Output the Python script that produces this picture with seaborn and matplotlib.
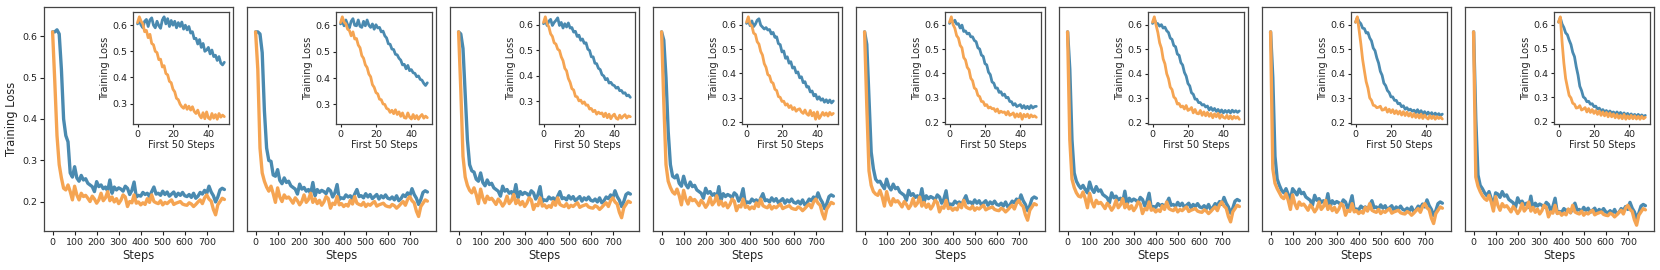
import matplotlib
matplotlib.use("Agg")
import matplotlib.pyplot as plt
import seaborn as sns

# ---------------- data ----------------
steps = list(range(0, 790, 10))
inset_steps = list(range(50))
inset_xticks = [0, 20, 40]
main_xticks = [0, 100, 200, 300, 400, 500, 600, 700]
main_yticks = [0.2, 0.3, 0.4, 0.5, 0.6]
inset_yticks_high = [0.3, 0.4, 0.5, 0.6]
inset_yticks_low = [0.2, 0.3, 0.4, 0.5, 0.6]

orange_main_1 = [0.610, 0.490, 0.360, 0.290, 0.258,
    0.233, 0.229, 0.241, 0.225, 0.205, 0.238, 0.217, 0.205, 0.221, 0.213,
    0.216, 0.209, 0.201, 0.214, 0.207, 0.197, 0.205, 0.221, 0.203, 0.210,
    0.225, 0.203, 0.212, 0.200, 0.208, 0.196, 0.204, 0.217, 0.212, 0.189,
    0.201, 0.198, 0.217, 0.197, 0.200, 0.193, 0.198, 0.194, 0.208, 0.199,
    0.217, 0.201, 0.198, 0.196, 0.203, 0.193, 0.199, 0.196, 0.201, 0.205,
    0.194, 0.197, 0.199, 0.201, 0.195, 0.193, 0.192, 0.198, 0.195, 0.189,
    0.194, 0.200, 0.205, 0.196, 0.210, 0.217, 0.207, 0.202, 0.182, 0.169,
    0.193, 0.201, 0.209, 0.206]
orange_main_2 = [0.610, 0.520, 0.330, 0.270, 0.250,
    0.236, 0.226, 0.238, 0.220, 0.199, 0.234, 0.212, 0.201, 0.217, 0.209,
    0.212, 0.205, 0.197, 0.210, 0.203, 0.193, 0.201, 0.217, 0.199, 0.206,
    0.221, 0.199, 0.208, 0.196, 0.204, 0.192, 0.200, 0.213, 0.208, 0.185,
    0.197, 0.194, 0.213, 0.193, 0.196, 0.189, 0.194, 0.190, 0.204, 0.195,
    0.213, 0.197, 0.194, 0.192, 0.199, 0.189, 0.195, 0.192, 0.197, 0.201,
    0.190, 0.193, 0.195, 0.197, 0.191, 0.189, 0.188, 0.194, 0.191, 0.185,
    0.190, 0.196, 0.201, 0.192, 0.206, 0.213, 0.203, 0.198, 0.178, 0.165,
    0.189, 0.197, 0.205, 0.202]
orange_main_3 = [0.610, 0.470, 0.310, 0.260, 0.240,
    0.228, 0.222, 0.234, 0.218, 0.196, 0.231, 0.210, 0.198, 0.214, 0.206,
    0.209, 0.202, 0.194, 0.207, 0.200, 0.190, 0.198, 0.214, 0.196, 0.203,
    0.218, 0.196, 0.205, 0.193, 0.201, 0.189, 0.197, 0.210, 0.205, 0.182,
    0.194, 0.191, 0.210, 0.190, 0.193, 0.186, 0.191, 0.187, 0.201, 0.192,
    0.210, 0.194, 0.191, 0.189, 0.196, 0.186, 0.192, 0.189, 0.194, 0.198,
    0.187, 0.190, 0.192, 0.194, 0.188, 0.186, 0.185, 0.191, 0.188, 0.182,
    0.187, 0.193, 0.198, 0.189, 0.203, 0.210, 0.200, 0.195, 0.175, 0.162,
    0.186, 0.194, 0.202, 0.199]
orange_main_4 = [0.610, 0.440, 0.290, 0.250, 0.235,
    0.224, 0.219, 0.231, 0.215, 0.193, 0.228, 0.207, 0.195, 0.211, 0.203,
    0.206, 0.199, 0.191, 0.204, 0.197, 0.187, 0.195, 0.211, 0.193, 0.200,
    0.215, 0.193, 0.202, 0.190, 0.198, 0.186, 0.194, 0.207, 0.202, 0.179,
    0.191, 0.188, 0.207, 0.187, 0.190, 0.183, 0.188, 0.184, 0.198, 0.189,
    0.207, 0.191, 0.188, 0.186, 0.193, 0.183, 0.189, 0.186, 0.191, 0.195,
    0.184, 0.187, 0.189, 0.191, 0.185, 0.183, 0.182, 0.188, 0.185, 0.179,
    0.184, 0.190, 0.195, 0.186, 0.200, 0.207, 0.197, 0.192, 0.172, 0.159,
    0.183, 0.191, 0.199, 0.196]
orange_main_5 = [0.610, 0.430, 0.275, 0.240, 0.225,
    0.219, 0.216, 0.228, 0.212, 0.190, 0.225, 0.204, 0.192, 0.208, 0.200,
    0.203, 0.196, 0.188, 0.201, 0.194, 0.184, 0.192, 0.208, 0.190, 0.197,
    0.212, 0.190, 0.199, 0.187, 0.195, 0.183, 0.191, 0.204, 0.199, 0.176,
    0.188, 0.185, 0.204, 0.184, 0.187, 0.180, 0.185, 0.181, 0.195, 0.186,
    0.204, 0.188, 0.185, 0.183, 0.190, 0.180, 0.186, 0.183, 0.188, 0.192,
    0.181, 0.184, 0.186, 0.188, 0.182, 0.180, 0.179, 0.185, 0.182, 0.176,
    0.181, 0.187, 0.192, 0.183, 0.197, 0.204, 0.194, 0.189, 0.169, 0.156,
    0.180, 0.188, 0.196, 0.193]
orange_main_6 = [0.610, 0.350, 0.255, 0.235, 0.222,
    0.214, 0.212, 0.224, 0.208, 0.186, 0.221, 0.200, 0.188, 0.204, 0.196,
    0.199, 0.192, 0.184, 0.197, 0.190, 0.180, 0.188, 0.204, 0.186, 0.193,
    0.208, 0.186, 0.195, 0.183, 0.191, 0.179, 0.187, 0.200, 0.195, 0.172,
    0.184, 0.181, 0.200, 0.180, 0.183, 0.176, 0.181, 0.177, 0.191, 0.182,
    0.200, 0.184, 0.181, 0.179, 0.186, 0.176, 0.182, 0.179, 0.184, 0.188,
    0.177, 0.180, 0.182, 0.184, 0.178, 0.176, 0.175, 0.181, 0.178, 0.172,
    0.177, 0.183, 0.188, 0.179, 0.193, 0.200, 0.190, 0.185, 0.165, 0.152,
    0.176, 0.184, 0.192, 0.189]
orange_main_7 = [0.610, 0.280, 0.245, 0.232, 0.222,
    0.212, 0.208, 0.220, 0.204, 0.182, 0.217, 0.196, 0.184, 0.200, 0.192,
    0.195, 0.188, 0.180, 0.193, 0.186, 0.176, 0.184, 0.200, 0.182, 0.189,
    0.204, 0.182, 0.191, 0.179, 0.187, 0.175, 0.183, 0.196, 0.191, 0.168,
    0.180, 0.177, 0.196, 0.176, 0.179, 0.172, 0.177, 0.173, 0.187, 0.178,
    0.196, 0.180, 0.177, 0.175, 0.182, 0.172, 0.178, 0.175, 0.180, 0.184,
    0.173, 0.176, 0.178, 0.180, 0.174, 0.172, 0.171, 0.177, 0.174, 0.168,
    0.173, 0.179, 0.184, 0.175, 0.189, 0.196, 0.186, 0.181, 0.161, 0.148,
    0.172, 0.180, 0.188, 0.185]
orange_main_8 = [0.610, 0.260, 0.238, 0.225, 0.215,
    0.208, 0.204, 0.216, 0.200, 0.178, 0.213, 0.192, 0.180, 0.196, 0.188,
    0.191, 0.184, 0.176, 0.189, 0.182, 0.172, 0.180, 0.196, 0.178, 0.185,
    0.200, 0.178, 0.187, 0.175, 0.183, 0.171, 0.179, 0.192, 0.187, 0.164,
    0.176, 0.173, 0.192, 0.172, 0.175, 0.168, 0.173, 0.169, 0.183, 0.174,
    0.192, 0.176, 0.173, 0.171, 0.178, 0.168, 0.174, 0.171, 0.176, 0.180,
    0.169, 0.172, 0.174, 0.176, 0.170, 0.168, 0.167, 0.173, 0.170, 0.164,
    0.169, 0.175, 0.180, 0.171, 0.185, 0.192, 0.182, 0.177, 0.157, 0.144,
    0.168, 0.176, 0.184, 0.181]

blue_main_1 = [0.610, 0.610, 0.615, 0.605, 0.520,
    0.400, 0.360, 0.345, 0.270, 0.260, 0.285, 0.258, 0.250, 0.264, 0.253,
    0.256, 0.245, 0.241, 0.237, 0.225, 0.249, 0.237, 0.241, 0.232, 0.236,
    0.226, 0.253, 0.221, 0.236, 0.229, 0.234, 0.231, 0.226, 0.238, 0.233,
    0.218, 0.228, 0.248, 0.212, 0.216, 0.214, 0.223, 0.218, 0.221, 0.213,
    0.225, 0.236, 0.219, 0.221, 0.216, 0.226, 0.218, 0.224, 0.214, 0.219,
    0.224, 0.213, 0.221, 0.216, 0.223, 0.215, 0.213, 0.218, 0.211, 0.221,
    0.209, 0.214, 0.223, 0.219, 0.228, 0.221, 0.238, 0.224, 0.215, 0.200,
    0.212, 0.229, 0.233, 0.230]
blue_main_2 = [0.610, 0.610, 0.605, 0.560, 0.420,
    0.330, 0.300, 0.298, 0.265, 0.262, 0.278, 0.252, 0.244, 0.258, 0.247,
    0.250, 0.239, 0.235, 0.231, 0.219, 0.243, 0.231, 0.235, 0.226, 0.230,
    0.220, 0.247, 0.215, 0.230, 0.223, 0.228, 0.225, 0.220, 0.232, 0.227,
    0.212, 0.222, 0.242, 0.206, 0.210, 0.208, 0.217, 0.212, 0.215, 0.207,
    0.219, 0.230, 0.213, 0.215, 0.210, 0.220, 0.212, 0.218, 0.208, 0.213,
    0.218, 0.207, 0.215, 0.210, 0.217, 0.209, 0.207, 0.212, 0.205, 0.215,
    0.203, 0.208, 0.217, 0.213, 0.222, 0.215, 0.232, 0.218, 0.209, 0.194,
    0.206, 0.223, 0.227, 0.224]
blue_main_3 = [0.610, 0.605, 0.570, 0.460, 0.350,
    0.290, 0.275, 0.272, 0.255, 0.250, 0.270, 0.247, 0.239, 0.253, 0.242,
    0.245, 0.234, 0.230, 0.226, 0.214, 0.238, 0.226, 0.230, 0.221, 0.225,
    0.215, 0.242, 0.210, 0.225, 0.218, 0.223, 0.220, 0.215, 0.227, 0.222,
    0.207, 0.217, 0.237, 0.201, 0.205, 0.203, 0.212, 0.207, 0.210, 0.202,
    0.214, 0.225, 0.208, 0.210, 0.205, 0.215, 0.207, 0.213, 0.203, 0.208,
    0.213, 0.202, 0.210, 0.205, 0.212, 0.204, 0.202, 0.207, 0.200, 0.210,
    0.198, 0.203, 0.212, 0.208, 0.217, 0.210, 0.227, 0.213, 0.204, 0.189,
    0.201, 0.218, 0.222, 0.219]
blue_main_4 = [0.610, 0.590, 0.500, 0.370, 0.290,
    0.262, 0.258, 0.265, 0.245, 0.238, 0.262, 0.242, 0.234, 0.248, 0.237,
    0.240, 0.229, 0.225, 0.221, 0.209, 0.233, 0.221, 0.225, 0.216, 0.220,
    0.210, 0.237, 0.205, 0.220, 0.213, 0.218, 0.215, 0.210, 0.222, 0.217,
    0.202, 0.212, 0.232, 0.196, 0.200, 0.198, 0.207, 0.202, 0.205, 0.197,
    0.209, 0.220, 0.203, 0.205, 0.200, 0.210, 0.202, 0.208, 0.198, 0.203,
    0.208, 0.197, 0.205, 0.200, 0.207, 0.199, 0.197, 0.202, 0.195, 0.205,
    0.193, 0.198, 0.207, 0.203, 0.212, 0.205, 0.222, 0.208, 0.199, 0.184,
    0.196, 0.213, 0.217, 0.214]
blue_main_5 = [0.610, 0.580, 0.450, 0.320, 0.280,
    0.255, 0.248, 0.250, 0.240, 0.232, 0.255, 0.237, 0.229, 0.243, 0.232,
    0.235, 0.224, 0.220, 0.216, 0.204, 0.228, 0.216, 0.220, 0.211, 0.215,
    0.205, 0.232, 0.200, 0.215, 0.208, 0.213, 0.210, 0.205, 0.217, 0.212,
    0.197, 0.207, 0.227, 0.191, 0.195, 0.193, 0.202, 0.197, 0.200, 0.192,
    0.204, 0.215, 0.198, 0.200, 0.195, 0.205, 0.197, 0.203, 0.193, 0.198,
    0.203, 0.192, 0.200, 0.195, 0.202, 0.194, 0.192, 0.197, 0.190, 0.200,
    0.188, 0.193, 0.202, 0.198, 0.207, 0.200, 0.217, 0.203, 0.194, 0.179,
    0.191, 0.208, 0.212, 0.209]
blue_main_6 = [0.610, 0.520, 0.350, 0.270, 0.250,
    0.240, 0.233, 0.240, 0.230, 0.222, 0.248, 0.231, 0.223, 0.237, 0.226,
    0.229, 0.218, 0.214, 0.210, 0.198, 0.222, 0.210, 0.214, 0.205, 0.209,
    0.199, 0.226, 0.194, 0.209, 0.202, 0.207, 0.204, 0.199, 0.211, 0.206,
    0.191, 0.201, 0.221, 0.185, 0.189, 0.187, 0.196, 0.191, 0.194, 0.186,
    0.198, 0.209, 0.192, 0.194, 0.189, 0.199, 0.191, 0.197, 0.187, 0.192,
    0.197, 0.186, 0.194, 0.189, 0.196, 0.188, 0.186, 0.191, 0.184, 0.194,
    0.182, 0.187, 0.196, 0.192, 0.201, 0.194, 0.211, 0.197, 0.188, 0.173,
    0.185, 0.202, 0.206, 0.203]
blue_main_7 = [0.610, 0.500, 0.310, 0.255, 0.240,
    0.228, 0.222, 0.232, 0.218, 0.205, 0.232, 0.225, 0.217, 0.231, 0.220,
    0.223, 0.212, 0.208, 0.204, 0.192, 0.216, 0.204, 0.208, 0.199, 0.203,
    0.193, 0.220, 0.188, 0.203, 0.196, 0.201, 0.198, 0.193, 0.205, 0.200,
    0.185, 0.195, 0.215, 0.179, 0.183, 0.181, 0.190, 0.185, 0.188, 0.180,
    0.192, 0.203, 0.186, 0.188, 0.183, 0.193, 0.185, 0.191, 0.181, 0.186,
    0.191, 0.180, 0.188, 0.183, 0.190, 0.182, 0.180, 0.185, 0.178, 0.188,
    0.176, 0.181, 0.190, 0.186, 0.195, 0.188, 0.205, 0.191, 0.182, 0.167,
    0.179, 0.196, 0.200, 0.197]
blue_main_8 = [0.610, 0.400, 0.265, 0.240, 0.232,
    0.222, 0.215, 0.225, 0.208, 0.190, 0.222, 0.219, 0.211, 0.225, 0.214,
    0.217, 0.206, 0.202, 0.198, 0.186, 0.210, 0.198, 0.202, 0.193, 0.197,
    0.187, 0.214, 0.182, 0.197, 0.190, 0.195, 0.192, 0.187, 0.199, 0.194,
    0.179, 0.189, 0.209, 0.173, 0.177, 0.175, 0.184, 0.179, 0.182, 0.174,
    0.186, 0.197, 0.180, 0.182, 0.177, 0.187, 0.179, 0.185, 0.175, 0.180,
    0.185, 0.174, 0.182, 0.177, 0.184, 0.176, 0.174, 0.179, 0.172, 0.182,
    0.170, 0.175, 0.184, 0.180, 0.189, 0.182, 0.199, 0.185, 0.176, 0.161,
    0.173, 0.190, 0.194, 0.191]

orange_inset_1 = [0.610, 0.632, 0.615, 0.605, 0.575, 0.580, 0.552, 0.565, 0.530, 0.525,
    0.500, 0.495, 0.468, 0.470, 0.440, 0.445, 0.415, 0.410, 0.385, 0.380,
    0.355, 0.345, 0.320, 0.315, 0.298, 0.288, 0.282, 0.295, 0.278, 0.290,
    0.275, 0.288, 0.270, 0.262, 0.275, 0.255, 0.245, 0.265, 0.242, 0.268,
    0.245, 0.240, 0.262, 0.244, 0.258, 0.240, 0.262, 0.248, 0.256, 0.250]
blue_inset_1 = [0.605, 0.618, 0.600, 0.590, 0.615, 0.622, 0.595, 0.620, 0.628, 0.600,
    0.590, 0.615, 0.598, 0.588, 0.620, 0.632, 0.605, 0.625, 0.595, 0.618,
    0.600, 0.615, 0.590, 0.610, 0.595, 0.612, 0.585, 0.600, 0.582, 0.595,
    0.570, 0.575, 0.548, 0.550, 0.528, 0.545, 0.515, 0.530, 0.500, 0.505,
    0.515, 0.490, 0.505, 0.480, 0.485, 0.465, 0.480, 0.455, 0.448, 0.458]
orange_inset_2 = [0.610, 0.632, 0.612, 0.605, 0.585, 0.580, 0.560, 0.575, 0.548, 0.550,
    0.525, 0.515, 0.485, 0.475, 0.450, 0.440, 0.415, 0.405, 0.375, 0.365,
    0.345, 0.340, 0.320, 0.318, 0.302, 0.300, 0.285, 0.282, 0.270, 0.278,
    0.265, 0.280, 0.262, 0.272, 0.255, 0.268, 0.250, 0.248, 0.268, 0.252,
    0.245, 0.262, 0.246, 0.258, 0.244, 0.255, 0.262, 0.248, 0.256, 0.250]
blue_inset_2 = [0.605, 0.615, 0.598, 0.620, 0.602, 0.590, 0.615, 0.625, 0.600, 0.598,
    0.620, 0.596, 0.592, 0.615, 0.598, 0.620, 0.600, 0.592, 0.605, 0.585,
    0.602, 0.590, 0.592, 0.575, 0.578, 0.560, 0.552, 0.530, 0.528, 0.510,
    0.508, 0.490, 0.488, 0.475, 0.468, 0.450, 0.452, 0.435, 0.448, 0.428,
    0.432, 0.420, 0.418, 0.405, 0.408, 0.395, 0.392, 0.380, 0.372, 0.382]
orange_inset_3 = [0.610, 0.632, 0.605, 0.592, 0.565, 0.555, 0.530, 0.525, 0.505, 0.500,
    0.475, 0.460, 0.430, 0.420, 0.390, 0.375, 0.350, 0.345, 0.320, 0.318,
    0.302, 0.305, 0.292, 0.298, 0.285, 0.286, 0.270, 0.272, 0.260, 0.265,
    0.250, 0.258, 0.252, 0.255, 0.240, 0.254, 0.236, 0.250, 0.232, 0.244,
    0.250, 0.234, 0.230, 0.246, 0.234, 0.242, 0.248, 0.235, 0.243, 0.240]
blue_inset_3 = [0.605, 0.618, 0.598, 0.615, 0.622, 0.598, 0.610, 0.618, 0.628, 0.598,
    0.610, 0.588, 0.605, 0.592, 0.608, 0.588, 0.590, 0.572, 0.575, 0.555,
    0.560, 0.540, 0.545, 0.528, 0.530, 0.505, 0.500, 0.475, 0.475, 0.450,
    0.448, 0.430, 0.425, 0.405, 0.400, 0.385, 0.390, 0.372, 0.375, 0.365,
    0.362, 0.352, 0.356, 0.342, 0.343, 0.332, 0.334, 0.322, 0.325, 0.316]
orange_inset_4 = [0.610, 0.632, 0.602, 0.595, 0.565, 0.560, 0.530, 0.520, 0.490, 0.475,
    0.440, 0.425, 0.395, 0.390, 0.365, 0.360, 0.335, 0.330, 0.305, 0.302,
    0.285, 0.286, 0.270, 0.275, 0.260, 0.268, 0.252, 0.260, 0.245, 0.252,
    0.255, 0.242, 0.236, 0.250, 0.234, 0.228, 0.248, 0.226, 0.240, 0.212,
    0.242, 0.215, 0.226, 0.240, 0.228, 0.238, 0.225, 0.240, 0.230, 0.236]
blue_inset_4 = [0.605, 0.618, 0.596, 0.615, 0.592, 0.602, 0.618, 0.624, 0.598, 0.590,
    0.582, 0.588, 0.578, 0.580, 0.562, 0.568, 0.548, 0.550, 0.522, 0.518,
    0.488, 0.492, 0.462, 0.468, 0.442, 0.448, 0.422, 0.426, 0.402, 0.406,
    0.382, 0.386, 0.362, 0.366, 0.344, 0.346, 0.324, 0.328, 0.308, 0.314,
    0.294, 0.304, 0.290, 0.296, 0.282, 0.292, 0.280, 0.291, 0.279, 0.287]
orange_inset_5 = [0.610, 0.632, 0.600, 0.585, 0.555, 0.545, 0.515, 0.505, 0.465, 0.455,
    0.425, 0.415, 0.380, 0.370, 0.340, 0.335, 0.310, 0.305, 0.285, 0.284,
    0.268, 0.272, 0.258, 0.262, 0.255, 0.256, 0.244, 0.254, 0.238, 0.245,
    0.240, 0.242, 0.230, 0.244, 0.228, 0.232, 0.238, 0.220, 0.234, 0.222,
    0.236, 0.212, 0.232, 0.222, 0.233, 0.218, 0.230, 0.222, 0.226, 0.220]
blue_inset_5 = [0.605, 0.622, 0.608, 0.618, 0.602, 0.604, 0.586, 0.598, 0.572, 0.574,
    0.562, 0.565, 0.550, 0.550, 0.535, 0.530, 0.505, 0.500, 0.475, 0.470,
    0.440, 0.435, 0.405, 0.395, 0.365, 0.360, 0.340, 0.340, 0.322, 0.325,
    0.310, 0.315, 0.300, 0.302, 0.285, 0.284, 0.270, 0.276, 0.264, 0.268,
    0.272, 0.258, 0.268, 0.256, 0.265, 0.255, 0.268, 0.258, 0.264, 0.265]
orange_inset_6 = [0.610, 0.632, 0.598, 0.568, 0.526, 0.504, 0.460, 0.440, 0.400, 0.380,
    0.345, 0.335, 0.305, 0.298, 0.276, 0.278, 0.264, 0.268, 0.256, 0.270,
    0.250, 0.254, 0.262, 0.240, 0.254, 0.238, 0.236, 0.250, 0.230, 0.244,
    0.228, 0.242, 0.226, 0.238, 0.220, 0.236, 0.224, 0.238, 0.218, 0.232,
    0.222, 0.218, 0.230, 0.216, 0.228, 0.215, 0.226, 0.218, 0.224, 0.214]
blue_inset_6 = [0.605, 0.622, 0.606, 0.604, 0.594, 0.600, 0.586, 0.590, 0.575, 0.568,
    0.545, 0.540, 0.515, 0.510, 0.480, 0.475, 0.445, 0.435, 0.405, 0.390,
    0.360, 0.350, 0.322, 0.316, 0.296, 0.296, 0.282, 0.282, 0.272, 0.274,
    0.264, 0.268, 0.252, 0.262, 0.250, 0.258, 0.246, 0.254, 0.242, 0.252,
    0.240, 0.250, 0.242, 0.250, 0.240, 0.251, 0.243, 0.249, 0.242, 0.248]
orange_inset_7 = [0.610, 0.632, 0.578, 0.522, 0.458, 0.412, 0.368, 0.342, 0.302, 0.292,
    0.272, 0.270, 0.262, 0.264, 0.268, 0.252, 0.254, 0.262, 0.244, 0.256,
    0.242, 0.254, 0.238, 0.250, 0.236, 0.248, 0.232, 0.246, 0.230, 0.244,
    0.228, 0.240, 0.224, 0.238, 0.222, 0.234, 0.220, 0.236, 0.218, 0.232,
    0.222, 0.216, 0.230, 0.218, 0.228, 0.215, 0.226, 0.218, 0.224, 0.216]
blue_inset_7 = [0.610, 0.628, 0.612, 0.604, 0.586, 0.584, 0.566, 0.568, 0.546, 0.534,
    0.505, 0.494, 0.465, 0.444, 0.410, 0.394, 0.362, 0.352, 0.332, 0.324,
    0.306, 0.306, 0.292, 0.292, 0.278, 0.280, 0.266, 0.270, 0.256, 0.262,
    0.252, 0.256, 0.248, 0.252, 0.242, 0.254, 0.240, 0.250, 0.236, 0.246,
    0.234, 0.244, 0.232, 0.242, 0.230, 0.240, 0.231, 0.238, 0.230, 0.236]
orange_inset_8 = [0.610, 0.632, 0.528, 0.442, 0.378, 0.342, 0.308, 0.298, 0.276, 0.272,
    0.256, 0.258, 0.266, 0.248, 0.252, 0.258, 0.240, 0.254, 0.238, 0.250,
    0.234, 0.246, 0.230, 0.244, 0.226, 0.240, 0.224, 0.238, 0.220, 0.236,
    0.220, 0.232, 0.216, 0.230, 0.214, 0.226, 0.212, 0.230, 0.210, 0.224,
    0.212, 0.226, 0.212, 0.224, 0.211, 0.222, 0.210, 0.222, 0.212, 0.218]
blue_inset_8 = [0.610, 0.628, 0.602, 0.588, 0.566, 0.558, 0.536, 0.518, 0.486, 0.468,
    0.426, 0.392, 0.346, 0.328, 0.302, 0.296, 0.282, 0.284, 0.272, 0.274,
    0.262, 0.264, 0.252, 0.256, 0.244, 0.250, 0.240, 0.246, 0.236, 0.244,
    0.236, 0.240, 0.232, 0.240, 0.230, 0.238, 0.228, 0.236, 0.226, 0.234,
    0.224, 0.232, 0.224, 0.230, 0.222, 0.230, 0.221, 0.228, 0.220, 0.226]

blue_main = [blue_main_1, blue_main_2, blue_main_3, blue_main_4,
             blue_main_5, blue_main_6, blue_main_7, blue_main_8]
orange_main = [orange_main_1, orange_main_2, orange_main_3, orange_main_4,
               orange_main_5, orange_main_6, orange_main_7, orange_main_8]
blue_inset = [blue_inset_1, blue_inset_2, blue_inset_3, blue_inset_4,
              blue_inset_5, blue_inset_6, blue_inset_7, blue_inset_8]
orange_inset = [orange_inset_1, orange_inset_2, orange_inset_3, orange_inset_4,
                orange_inset_5, orange_inset_6, orange_inset_7, orange_inset_8]
inset_yticks = [inset_yticks_high, inset_yticks_high, inset_yticks_high,
                inset_yticks_low, inset_yticks_low, inset_yticks_low,
                inset_yticks_low, inset_yticks_low]

# ---------------- style ----------------
sns.set_theme(style="ticks")
plt.rcParams["font.family"] = ["DejaVu Sans"]
plt.rcParams.update({
    "axes.edgecolor": "#444444",
    "axes.linewidth": 0.9,
    "xtick.major.size": 3,
    "ytick.major.size": 3,
    "xtick.major.width": 0.8,
    "ytick.major.width": 0.8,
    "xtick.major.pad": 2,
    "ytick.major.pad": 2,
})

BLUE = "#4a8ab0"
ORANGE = "#f5a452"

W, H = 1660, 270
fig = plt.figure(figsize=(W / 100, H / 100), dpi=100)

ax_w = 189 / W
ax_h = 224 / H
ax_b = (H - 231) / H

for i in range(8):
    left = (44 + 203 * i) / W
    ax = fig.add_axes([left, ax_b, ax_w, ax_h])
    sns.lineplot(x=steps, y=blue_main[i], ax=ax, color=BLUE, linewidth=2.4)
    sns.lineplot(x=steps, y=orange_main[i], ax=ax, color=ORANGE, linewidth=2.4)
    ax.set_xticks(main_xticks)
    ax.set_yticks(main_yticks)
    ax.set_ylim(0.13, 0.67)
    ax.tick_params(axis="both", labelsize=6.8, colors="#222222")
    ax.set_xlabel("Steps", fontsize=8.3, labelpad=1.5)
    if i == 0:
        ax.set_ylabel("Training Loss", fontsize=8.3, labelpad=3)
    else:
        ax.set_ylabel("")
        ax.tick_params(axis="y", left=False, labelleft=False)

    ins = ax.inset_axes([0.472, 0.476, 0.505, 0.503])
    sns.lineplot(x=inset_steps, y=blue_inset[i], ax=ins, color=BLUE, linewidth=2.0)
    sns.lineplot(x=inset_steps, y=orange_inset[i], ax=ins, color=ORANGE, linewidth=2.0)
    ins.set_xticks(inset_xticks)
    ins.set_yticks(inset_yticks[i])
    ins.tick_params(axis="both", labelsize=6.8, length=2.5, pad=1.5, colors="#222222")
    ins.set_xlabel("First 50 Steps", fontsize=7, labelpad=1)
    ins.set_ylabel("Training Loss", fontsize=7, labelpad=1.5)
    for s in ins.spines.values():
        s.set_color("#444444")
        s.set_linewidth(0.9)

fig.savefig("out.png", dpi=100)
